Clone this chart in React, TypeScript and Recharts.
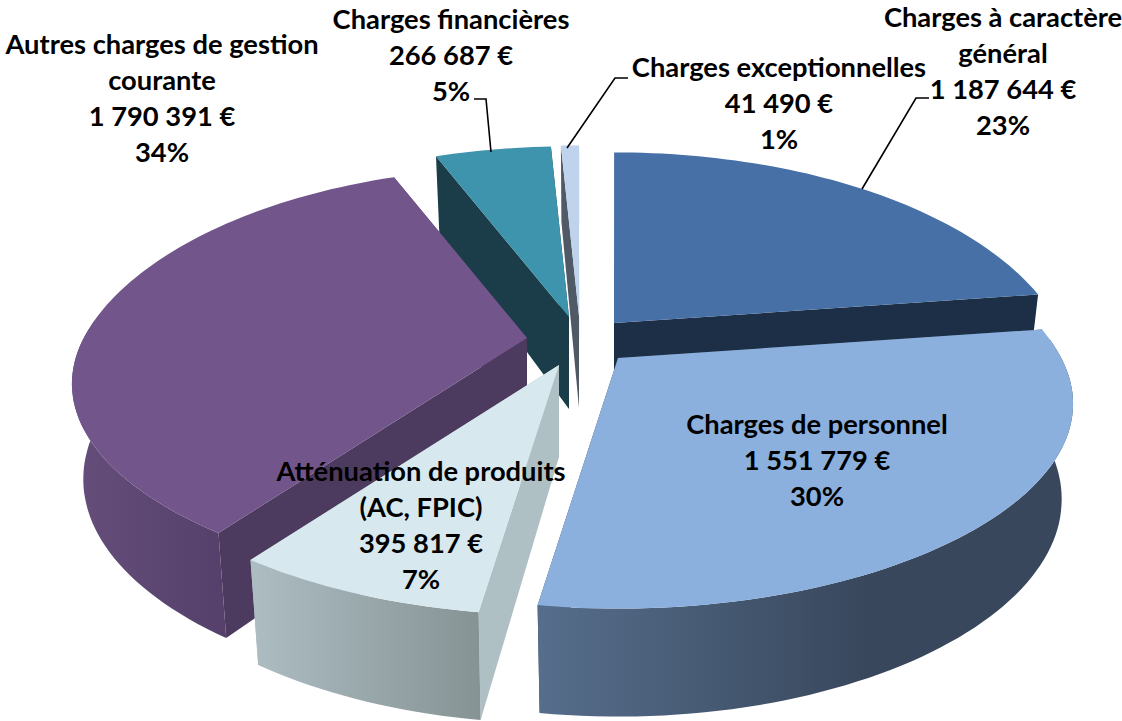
import React from 'react';
import { PieChart, Pie } from 'recharts';

const categories = ['Charges à caractère général', 'Charges exceptionnelles', 'Charges financières', 'Autres charges de gestion courante', 'Atténuation de produits (AC, FPIC)', 'Charges de personnel'];
const values = [1187644, 41490, 266687, 1790391, 395817, 1551779];
const valueLabels = ['1 187 644 €', '41 490 €', '266 687 €', '1 790 391 €', '395 817 €', '1 551 779 €'];
const percentLabels = ['23%', '1%', '5%', '34%', '7%', '30%'];
const nameLines = [
  ['Charges à caractère', 'général'],
  ['Charges exceptionnelles'],
  ['Charges financières'],
  ['Autres charges de gestion', 'courante'],
  ['Atténuation de produits', '(AC, FPIC)'],
  ['Charges de personnel'],
];

const data = categories.map((name, i) => ({ name, value: values[i] }));

// styling / geometry
const topColors = ['#4770a6', '#bfd4ec', '#3f94ad', '#72558b', '#d7e9ef', '#8bb0de'];
const radialColors = ['#1c2f47', '#4f5a66', '#1a3d49', '#4c3b5f', '#afc0c4', '#38475c'];
const wallFrom = ['#1c2f47', '#4f5a66', '#1a3d49', '#664e7b', '#adbdc2', '#566e8c'];
const wallTo = ['#1c2f47', '#4f5a66', '#1a3d49', '#54406a', '#869395', '#38475c'];
const wallStop = ['100%', '100%', '100%', '100%', '100%', '62%'];
const apexes = [[614, 323], [579, 316], [569, 317], [527, 338], [559, 365], [618, 358]];
const labelX = [1003, 779, 451, 162, 421, 817];
const labelY = [18, 68, 20, 45, 472, 425];
const leaders: (number[][] | null)[] = [
  [[929, 98], [916, 98], [862, 189]],
  [[628, 78], [615, 78], [567, 148]],
  [[474, 99], [486, 99], [491, 152]],
  null, null, null,
];

const TILT_RADIUS = 203;
const PERSP = 0.19;
const LINE = 36;
const FONT = 'Lato, "Open Sans", sans-serif';

function project(r: number, deg: number) {
  const a = (deg * Math.PI) / 180;
  const u = Math.cos(a);
  const v = -Math.sin(a);
  const fx = 0.985 + 0.235 * v + (v < 0 ? 0.06 * v * v : 0);
  const fy = 1 / (1 - PERSP * v);
  return { x: r * u * fx, y: TILT_RADIUS * v * fy, v };
}
const depth = (v: number) => 92 + 16 * v;
const pathOf = (pts: number[][]) => 'M' + pts.map((p) => p[0].toFixed(1) + ' ' + p[1].toFixed(1)).join('L') + 'Z';

function Slice3D(props: any) {
  const { startAngle, endAngle, outerRadius, index } = props;
  const i = index ?? 0;
  const [ax, ay] = apexes[i];
  const lo = Math.min(startAngle, endAngle);
  const hi = Math.max(startAngle, endAngle);
  const n = Math.max(4, Math.ceil((hi - lo) / 1.5));
  const rim: { x: number; y: number; v: number }[] = [];
  for (let k = 0; k <= n; k++) rim.push(project(outerRadius, lo + ((hi - lo) * k) / n));
  const top = (p: { x: number; y: number }) => [ax + p.x, ay + p.y];
  const bot = (p: { x: number; y: number; v: number }) => [ax + p.x * 0.975, ay + p.y + depth(p.v)];
  const apexBot = [ax, ay + depth(0)];
  const first = rim[0];
  const last = rim[rim.length - 1];
  const front = rim.filter((p) => p.v > -0.1);
  const gid = 'wall-' + i;
  return (
    <g>
      <defs>
        <linearGradient id={gid} x1="0" y1="0" x2="1" y2="0">
          <stop offset="0%" stopColor={wallFrom[i]} />
          <stop offset={wallStop[i]} stopColor={wallTo[i]} />
        </linearGradient>
      </defs>
      <path d={pathOf([[ax, ay], top(first), bot(first), apexBot])} fill={radialColors[i]} />
      <path d={pathOf([[ax, ay], top(last), bot(last), apexBot])} fill={radialColors[i]} />
      {front.length > 1 && (
        <path d={pathOf([...front.map(top), ...front.slice().reverse().map(bot)])} fill={`url(#${gid})`} />
      )}
      <path d={pathOf([[ax, ay], ...rim.map(top)])} fill={topColors[i]} />
    </g>
  );
}

function SliceLabel(props: any) {
  const i = props.index ?? 0;
  const lines = [...nameLines[i], valueLabels[i], percentLabels[i]];
  const lead = leaders[i];
  return (
    <g>
      {lead && (
        <polyline points={lead.map((p) => p.join(',')).join(' ')} fill="none" stroke="#000" strokeWidth={1.6} />
      )}
      <text textAnchor="middle" fontFamily={FONT} fontWeight={700} fontSize={27.3} fill="#000">
        {lines.map((t, k) => (
          <tspan key={k} x={labelX[i]} y={labelY[i] + 9 + k * LINE}>{t}</tspan>
        ))}
      </text>
    </g>
  );
}

export default function App() {
  return (
    <div style={{ position: 'absolute', left: 0, top: 0, width: 1122, height: 721, background: '#fff' }}>
      <PieChart width={1122} height={721} margin={{ top: 0, right: 0, bottom: 0, left: 0 }}>
        <Pie
          data={data}
          dataKey="value"
          nameKey="name"
          cx={585}
          cy={335}
          innerRadius={0}
          outerRadius={450}
          startAngle={8.3}
          endAngle={368.3}
          paddingAngle={0}
          stroke="none"
          isAnimationActive={false}
          shape={Slice3D}
          label={SliceLabel}
          labelLine={false}
        />
      </PieChart>
    </div>
  );
}
